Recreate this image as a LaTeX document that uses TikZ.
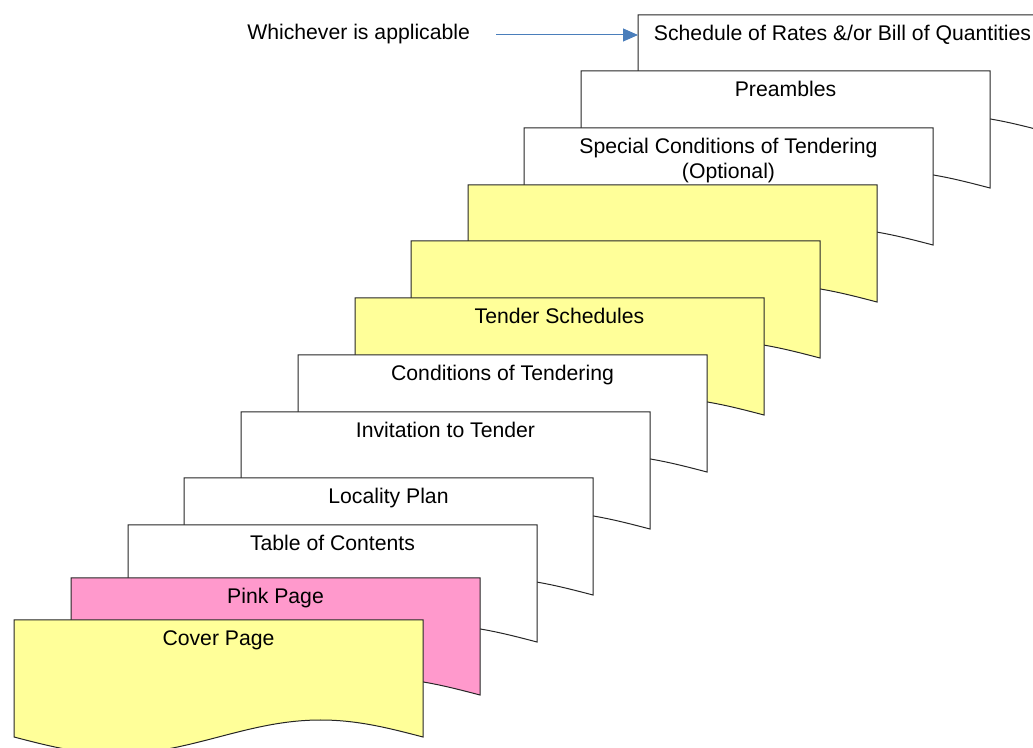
\documentclass[tikz,border=0pt]{standalone}
\usepackage{fontspec}
\setmainfont{Liberation Sans}
\usetikzlibrary{arrows.meta}
\definecolor{docyellow}{HTML}{FFFF99}
\definecolor{docpink}{HTML}{FF99CC}
\definecolor{arrowblue}{HTML}{4A7EBB}
\newcommand\DocPage[5]{%
  \draw[docline, fill=#3] (#1,#2) -- ++(409,0) -- ++(0,117)
    sin ++(-102.25,-17) cos ++(-102.25,17)
    sin ++(-102.25,17) cos ++(-102.25,-17) -- cycle;
  \node[doctext, anchor=base] (#4) at (#1+204.5,#2+25.5) {#5};%
}
\begin{document}
\begin{tikzpicture}[x=0.75pt, y=-0.75pt,
  docline/.style={draw=black!85, line width=0.75pt, line join=miter},
  doctext/.style={inner sep=0pt, font=\fontsize{15.9pt}{18.75pt}\selectfont, align=center},
  arr/.style={draw=arrowblue, line width=0.75pt, -{Triangle[length=11.25pt,width=9.75pt]}}]
\useasboundingbox (0,0) rectangle (1033,748);
\clip (0,0) rectangle (1033,748);
\DocPage{638}{15}{white}{sched}{Schedule of Rates \&/or Bill of Quantities}
\DocPage{581}{71}{white}{pre}{Preambles}
\draw[docline, fill=white] (524,128) -- ++(409,0) -- ++(0,117)
    sin ++(-102.25,-17) cos ++(-102.25,17)
    sin ++(-102.25,17) cos ++(-102.25,-17) -- cycle;
\node[doctext, anchor=north] (spec) at (728.5,138) {Special Conditions of Tendering\\(Optional)};
\DocPage{468}{185}{docyellow}{ya}{}
\DocPage{411}{241}{docyellow}{yb}{}
\DocPage{355}{298}{docyellow}{tend}{Tender Schedules}
\DocPage{298}{355}{white}{cond}{Conditions of Tendering}
\DocPage{241}{412}{white}{inv}{Invitation to Tender}
\DocPage{184}{478}{white}{loc}{Locality Plan}
\DocPage{128}{525}{white}{toc}{Table of Contents}
\DocPage{71}{578}{docpink}{pink}{Pink Page}
\DocPage{14}{620}{docyellow}{cover}{Cover Page}
\node[doctext, anchor=base west] (which) at (247,40) {Whichever is applicable};
\coordinate (schedL) at (638,35);
\draw[arr] ([xshift=19.5pt]which.east |- schedL) -- (schedL);
\end{tikzpicture}
\end{document}
